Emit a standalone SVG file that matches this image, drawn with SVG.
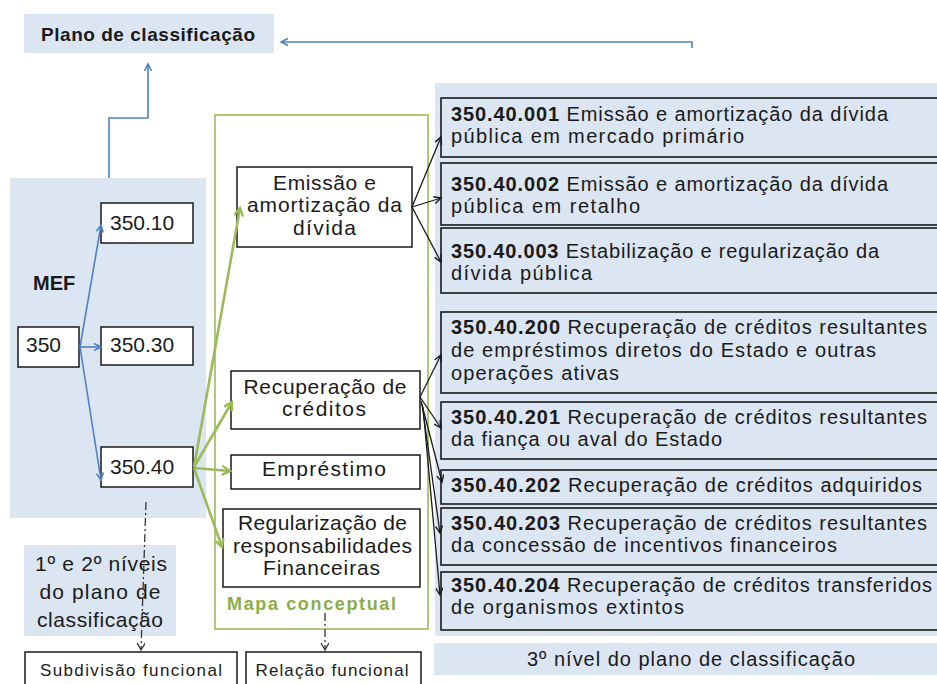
<svg xmlns="http://www.w3.org/2000/svg" width="937" height="684" viewBox="0 0 937 684">
<defs>
<style>
text{font-family:"Liberation Sans",Arial,sans-serif;fill:#1a1a1a;}
.panel{fill:#dce6f2;}
.box{fill:#ffffff;stroke:#1a1a1a;stroke-width:1.5;}
.rbox{fill:#dce6f2;stroke:#1a1a1a;stroke-width:1.6;}
.rt{font-size:20px;}
.b{font-weight:bold;}
.mid{font-size:21px;text-anchor:middle;}
.num{font-size:21px;}
.blue{fill:none;stroke:#4f81bd;stroke-width:1.6;}
.green{fill:none;stroke:#9bbb59;stroke-width:2.6;}
.black{fill:none;stroke:#1a1a1a;stroke-width:1.3;}
.dd{fill:none;stroke:#333;stroke-width:1.3;stroke-dasharray:8 3 2 3;}
</style>
<marker id="ab" markerWidth="10" markerHeight="10" refX="8" refY="4" orient="auto" markerUnits="userSpaceOnUse"><path d="M1,0.5 L8,4 L1,7.5" fill="none" stroke="#4f81bd" stroke-width="1.6"/></marker>
<marker id="ag" markerWidth="12" markerHeight="12" refX="9" refY="5" orient="auto" markerUnits="userSpaceOnUse"><path d="M1,0.5 L9,5 L1,9.5" fill="none" stroke="#9bbb59" stroke-width="2.4"/></marker>
<marker id="ak" markerWidth="10" markerHeight="10" refX="8" refY="4" orient="auto" markerUnits="userSpaceOnUse"><path d="M1,0.5 L8,4 L1,7.5" fill="none" stroke="#1a1a1a" stroke-width="1.4"/></marker>
<marker id="ad" markerWidth="10" markerHeight="10" refX="8" refY="4" orient="auto" markerUnits="userSpaceOnUse"><path d="M1,0 L8,4 L1,8" fill="none" stroke="#333" stroke-width="1.3"/></marker>
</defs>

<g id="plano">
<rect class="panel" x="24" y="14" width="250" height="39"/>
<text class="b" x="41" y="41" font-size="19" textLength="214" lengthAdjust="spacing">Plano de classificação</text>
</g>

<g id="mef-panel">
<rect class="panel" x="10" y="178" width="196" height="340"/>
<text class="b" x="33" y="290" font-size="20">MEF</text>
</g>

<g id="n350"><rect class="box" x="18" y="327" width="61" height="40"/><text class="num" x="26" y="352">350</text></g>
<g id="n350-10"><rect class="box" x="101" y="203" width="92" height="40"/><text class="num" x="110" y="230">350.10</text></g>
<g id="n350-30"><rect class="box" x="101" y="327" width="92" height="38"/><text class="num" x="110" y="352">350.30</text></g>
<g id="n350-40"><rect class="box" x="101" y="447" width="92" height="40"/><text class="num" x="110" y="474">350.40</text></g>

<g id="niveis12">
<rect class="panel" x="24" y="545" width="152" height="91"/>
<text class="mid" x="101" y="571" textLength="132" lengthAdjust="spacing">1º e 2º níveis</text>
<text class="mid" x="100" y="599" textLength="121" lengthAdjust="spacing">do plano de</text>
<text class="mid" x="100" y="627" textLength="126" lengthAdjust="spacing">classificação</text>
</g>

<g id="subdivisao"><rect class="box" x="25" y="652" width="212" height="40"/><text x="131" y="676" font-size="17" text-anchor="middle" textLength="182" lengthAdjust="spacing">Subdivisão funcional</text></g>
<g id="relacao"><rect class="box" x="246" y="652" width="175" height="40"/><text x="332" y="676" font-size="17" text-anchor="middle" textLength="153" lengthAdjust="spacing">Relação funcional</text></g>

<g id="mapa">
<rect x="215" y="115" width="213" height="514" fill="none" stroke="#9bbb59" stroke-width="1.6"/>
<text x="227" y="610" font-size="18" font-weight="bold" style="fill:#8aae45" textLength="169" lengthAdjust="spacing">Mapa conceptual</text>
</g>

<g id="emissao"><rect class="box" x="237" y="167" width="175" height="80"/>
<text class="mid" x="324.5" y="190" textLength="103" lengthAdjust="spacing">Emissão e</text>
<text class="mid" x="324.5" y="212" textLength="155" lengthAdjust="spacing">amortização da</text>
<text class="mid" x="324.5" y="235" textLength="63" lengthAdjust="spacing">dívida</text></g>

<g id="recuperacao"><rect class="box" x="231" y="371" width="189" height="58"/>
<text class="mid" x="325" y="394" textLength="163" lengthAdjust="spacing">Recuperação de</text>
<text class="mid" x="324" y="416" textLength="84" lengthAdjust="spacing">créditos</text></g>

<g id="emprestimo"><rect class="box" x="231" y="455" width="189" height="34"/>
<text class="mid" x="324" y="476" textLength="124" lengthAdjust="spacing">Empréstimo</text></g>

<g id="regularizacao"><rect class="box" x="223" y="509" width="197" height="78"/>
<text class="mid" x="322.5" y="530" textLength="169" lengthAdjust="spacing">Regularização de</text>
<text class="mid" x="322.5" y="553" textLength="179" lengthAdjust="spacing">responsabilidades</text>
<text class="mid" x="321.5" y="575" textLength="117" lengthAdjust="spacing">Financeiras</text></g>

<g id="nivel3-panel"><rect class="panel" x="435" y="83" width="502" height="553"/></g>

<g id="c001"><rect class="rbox" x="441" y="98" width="500" height="59"/>
<text class="rt" x="451" y="121" textLength="437" lengthAdjust="spacing"><tspan class="b">350.40.001</tspan>  Emissão e amortização da dívida</text>
<text class="rt" x="451" y="143" textLength="293" lengthAdjust="spacing">pública em mercado primário</text></g>

<g id="c002"><rect class="rbox" x="441" y="163" width="500" height="62"/>
<text class="rt" x="451" y="191" textLength="437" lengthAdjust="spacing"><tspan class="b">350.40.002</tspan>  Emissão e amortização da dívida</text>
<text class="rt" x="451" y="213" textLength="189" lengthAdjust="spacing">pública em retalho</text></g>

<g id="c003"><rect class="rbox" x="441" y="228" width="500" height="65"/>
<text class="rt" x="451" y="258" textLength="428" lengthAdjust="spacing"><tspan class="b">350.40.003</tspan>  Estabilização e regularização da</text>
<text class="rt" x="451" y="280" textLength="141" lengthAdjust="spacing">dívida pública</text></g>

<g id="c200"><rect class="rbox" x="441" y="312" width="500" height="81"/>
<text class="rt" x="451" y="334" textLength="476" lengthAdjust="spacing"><tspan class="b">350.40.200</tspan>  Recuperação de créditos resultantes</text>
<text class="rt" x="451" y="357" textLength="425" lengthAdjust="spacing">de empréstimos diretos do Estado e outras</text>
<text class="rt" x="451" y="380" textLength="168" lengthAdjust="spacing">operações ativas</text></g>

<g id="c201"><rect class="rbox" x="441" y="402" width="500" height="57"/>
<text class="rt" x="451" y="424" textLength="476" lengthAdjust="spacing"><tspan class="b">350.40.201</tspan>  Recuperação de créditos resultantes</text>
<text class="rt" x="451" y="446" textLength="271" lengthAdjust="spacing">da fiança ou aval do Estado</text></g>

<g id="c202"><rect class="rbox" x="441" y="470" width="500" height="34"/>
<text class="rt" x="451" y="492" textLength="471" lengthAdjust="spacing"><tspan class="b">350.40.202</tspan>  Recuperação de créditos adquiridos</text></g>

<g id="c203"><rect class="rbox" x="441" y="508" width="500" height="57"/>
<text class="rt" x="451" y="530" textLength="476" lengthAdjust="spacing"><tspan class="b">350.40.203</tspan>  Recuperação de créditos resultantes</text>
<text class="rt" x="451" y="552" textLength="386" lengthAdjust="spacing">da concessão de incentivos financeiros</text></g>

<g id="c204"><rect class="rbox" x="441" y="572" width="500" height="58"/>
<text class="rt" x="451" y="592" textLength="481" lengthAdjust="spacing"><tspan class="b">350.40.204</tspan>  Recuperação de créditos transferidos</text>
<text class="rt" x="451" y="614" textLength="233" lengthAdjust="spacing">de organismos extintos</text></g>

<g id="nivel3-label"><rect class="panel" x="434" y="643" width="503" height="32"/>
<text x="691" y="666" font-size="20" text-anchor="middle" textLength="328" lengthAdjust="spacing">3º nível do plano de classificação</text></g>

<g id="connectors">
<path class="blue" d="M692,48 L692,42 L281,42" marker-end="url(#ab)"/>
<path class="blue" d="M109,178 L109,118 L148,118 L148,64" marker-end="url(#ab)"/>
<path class="blue" d="M80,347 L101,225" marker-end="url(#ab)"/>
<path class="blue" d="M80,347 L101,347" marker-end="url(#ab)"/>
<path class="blue" d="M80,347 L101,480" marker-end="url(#ab)"/>
<path class="green" d="M194,467 L240,208" marker-end="url(#ag)"/>
<path class="green" d="M194,467 L232,402" marker-end="url(#ag)"/>
<path class="green" d="M194,468 L230,471" marker-end="url(#ag)"/>
<path class="green" d="M194,468 L222,547" marker-end="url(#ag)"/>
<path class="black" d="M412,207 L441,137" marker-end="url(#ak)"/>
<path class="black" d="M412,207 L441,198" marker-end="url(#ak)"/>
<path class="black" d="M412,207 L441,262" marker-end="url(#ak)"/>
<path class="black" d="M420,397 L441,355" marker-end="url(#ak)"/>
<path class="black" d="M420,397 L441,428" marker-end="url(#ak)"/>
<path class="black" d="M421,401 L442,482" marker-end="url(#ak)"/>
<path class="black" d="M422,404 L440,533" marker-end="url(#ak)"/>
<path class="black" d="M423,407 L440,595" marker-end="url(#ak)"/>
<path class="dd" d="M146,502 L141,650" marker-end="url(#ad)"/>
<path class="dd" d="M325,613 L325,650" marker-end="url(#ad)"/>
</g>
</svg>
